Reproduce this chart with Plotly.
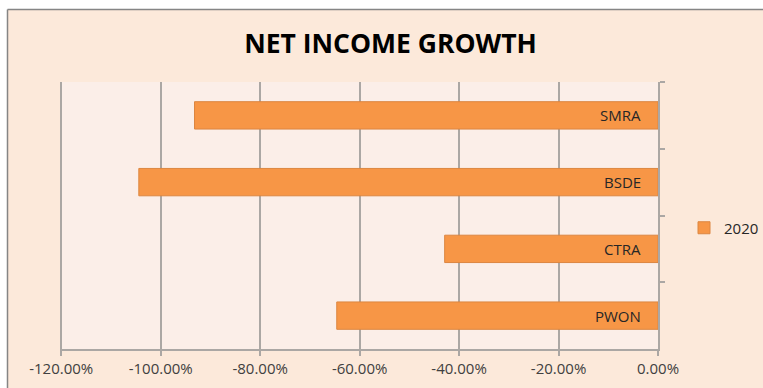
import plotly.graph_objects as go

# Data (top to bottom as displayed)
companies = ["SMRA", "BSDE", "CTRA", "PWON"]
growth_2020 = [-0.932, -1.044, -0.429, -0.646]
series_name = "2020"
title_text = "NET INCOME GROWTH"
tick_values = [-1.2, -1.0, -0.8, -0.6, -0.4, -0.2, 0.0]
tick_labels = ["-120.00%", "-100.00%", "-80.00%", "-60.00%", "-40.00%", "-20.00%", "0.00%"]

W, H = 763, 388
L, R, T, B = 60, 105, 82, 39
pw, ph = W - L - R, H - T - B

def px_x(px):
    return (px - L) / pw

def px_y(py):
    return (H - B - py) / ph

peach = "#FCE9DA"
grid = "#ABA7A4"
fig = go.Figure()
fig.add_trace(go.Bar(
    y=companies, x=growth_2020, orientation="h", name=series_name,
    marker=dict(color="#F79646", line=dict(color="#DC8640", width=1)),
    showlegend=True, hoverinfo="x+y",
))

annotations = []
for c in companies:
    annotations.append(dict(x=0, y=c, xref="x", yref="y", text=c, showarrow=False,
                            xanchor="right", yanchor="middle", xshift=-15,
                            font=dict(family="Open Sans", size=15, color="#262626")))

shapes = [
    dict(type="rect", xref="paper", yref="paper", x0=-0.2, x1=1.3, y0=px_y(9.5), y1=px_y(-10),
         fillcolor="white", line=dict(width=0)),
    dict(type="rect", xref="paper", yref="paper", x0=-0.2, x1=px_x(7.5), y0=px_y(400), y1=px_y(-10),
         fillcolor="white", line=dict(width=0)),
    dict(type="line", xref="paper", yref="paper", x0=px_x(7.5), x1=1.3, y0=px_y(9.5), y1=px_y(9.5),
         line=dict(color="#858585", width=1.5)),
    dict(type="line", xref="paper", yref="paper", x0=px_x(7.5), x1=px_x(7.5), y0=px_y(400), y1=px_y(9.5),
         line=dict(color="#858585", width=1.5)),
]

fig.update_layout(
    width=W, height=H,
    margin=dict(l=L, r=R, t=T, b=B, autoexpand=False),
    paper_bgcolor=peach, plot_bgcolor="#FBEEE8",
    title=dict(text="<b>" + title_text + "</b>", x=px_x(390.5), xref="paper", xanchor="center",
               y=1 - 44 / H, yref="container", yanchor="middle",
               font=dict(family="Open Sans", size=26.5, color="black")),
    bargap=0.59,
    font=dict(family="Open Sans", size=15, color="#404040"),
    xaxis=dict(range=[-1.2025, 0], tickmode="array", tickvals=tick_values, ticktext=tick_labels,
               showgrid=True, gridcolor=grid, gridwidth=1.5, zeroline=False,
               showline=True, linecolor=grid, linewidth=1.5,
               ticks="outside", ticklen=5, tickcolor=grid, tickwidth=1.5,
               tickfont=dict(family="Open Sans", size=15, color="#404040")),
    yaxis=dict(autorange="reversed", side="right", showticklabels=False,
               showline=True, linecolor=grid, linewidth=1.5,
               ticks="outside", tickson="boundaries", ticklen=5, tickcolor=grid, tickwidth=1.5,
               showgrid=False, zeroline=False),
    legend=dict(x=px_x(684), y=px_y(228), xref="paper", yref="paper", xanchor="left", yanchor="middle",
                bgcolor="rgba(0,0,0,0)", font=dict(family="Open Sans", size=15, color="#262626"),
                itemwidth=30),
    annotations=annotations,
    shapes=shapes,
)

fig.write_html("out.html")
